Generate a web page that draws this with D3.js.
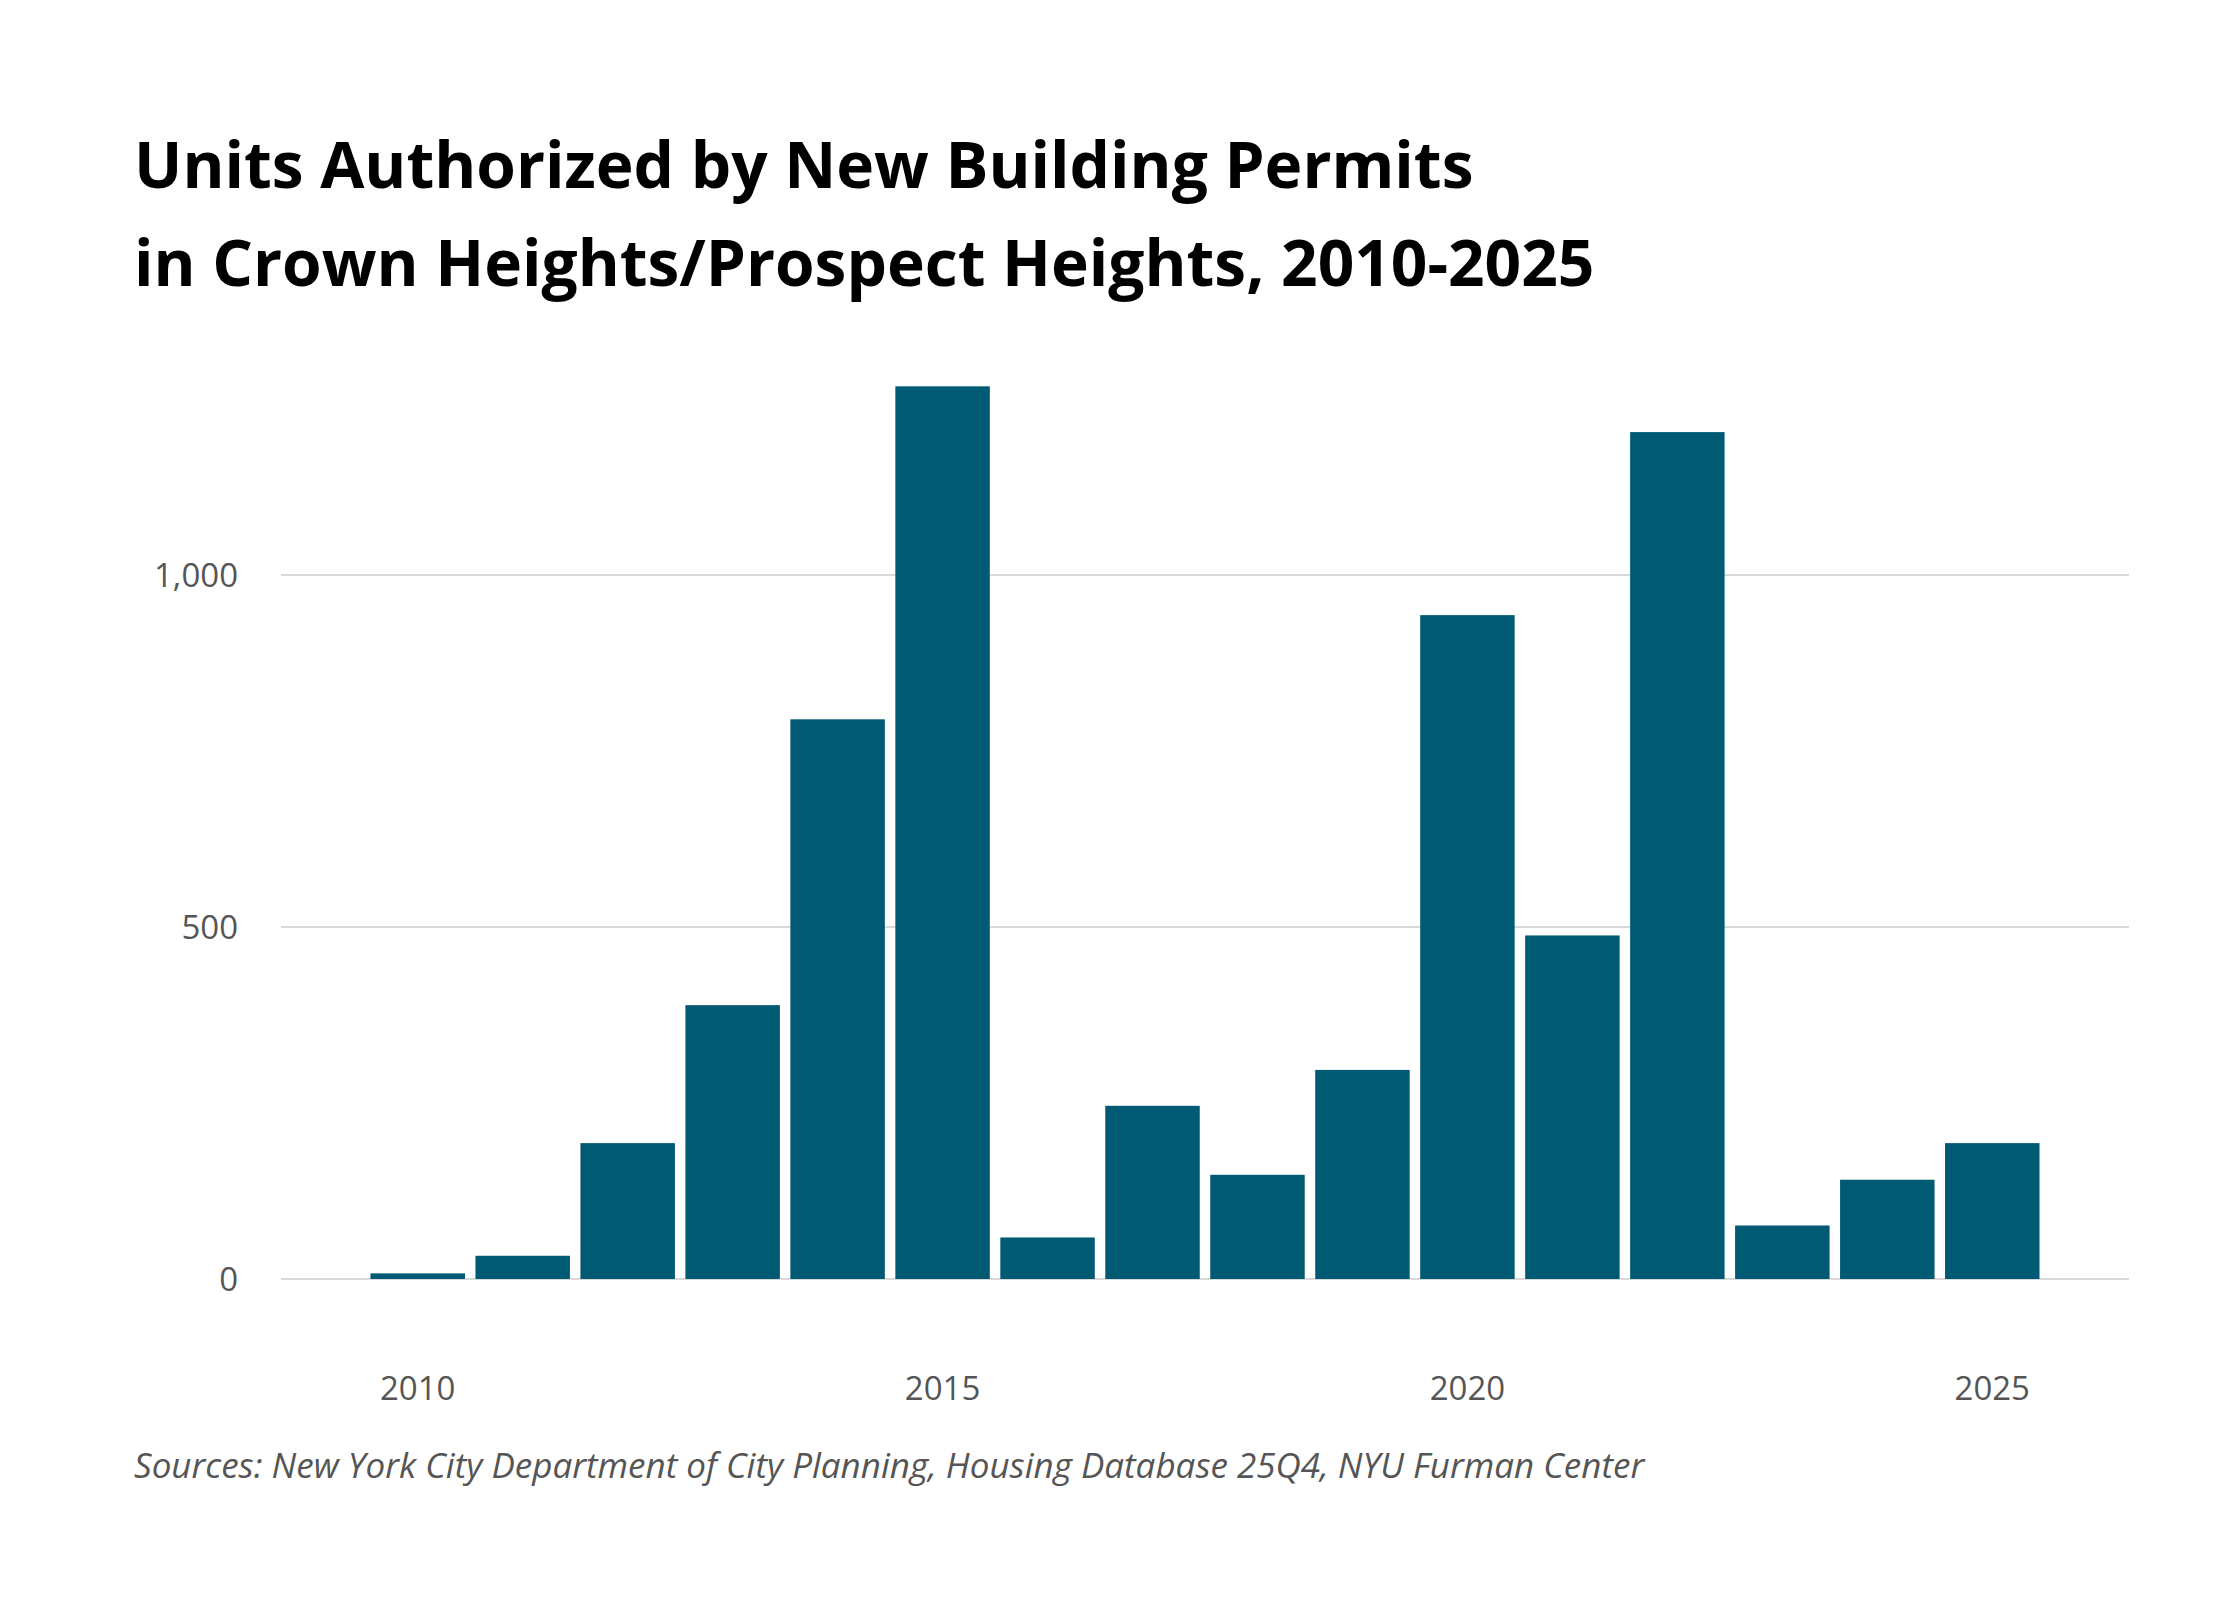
<!DOCTYPE html>
<html>
<head>
<meta charset="utf-8">
<script src="https://cdn.jsdelivr.net/npm/d3@7"></script>
<style>
  body { margin: 0; background: #fff; }
  text { font-family: "Open Sans", "Noto Sans", sans-serif; }
</style>
</head>
<body>
<div id="chart"></div>
<script>
// Data
let years = d3.range(2010, 2026);
let units = [8, 33, 193, 389, 795, 1268, 59, 246, 148, 297, 943, 488, 1203, 76, 141, 193];
let yTicks = [0, 500, 1000];
let xTicks = [2010, 2015, 2020, 2025];

let svgWidth = 2240, svgHeight = 1600;

let svg = d3.select('#chart')
            .append('svg')
            .attr('width', svgWidth)
            .attr('height', svgHeight);

// Title
let title = svg.append('text')
    .attr('x', 134)
    .attr('font-size', 64)
    .attr('font-weight', 700)
    .attr('fill', '#000');
title.append('tspan').attr('x', 134).attr('y', 188).text('Units Authorized by New Building Permits');
title.append('tspan').attr('x', 134).attr('y', 286).text('in Crown Heights/Prospect Heights, 2010-2025');

// Scales
let xScale = d3.scaleBand()
    .domain(years)
    .range([360, 2050])
    .padding(0.1);
let yScale = d3.scaleLinear()
    .domain([0, 1000])
    .range([1279, 575]);

// Gridlines + y labels
svg.append('g').selectAll('line')
    .data(yTicks).enter().append('line')
    .attr('x1', 281).attr('x2', 2129)
    .attr('y1', d => yScale(d)).attr('y2', d => yScale(d))
    .attr('stroke', '#ccc').attr('stroke-width', 1.5);

svg.append('g').selectAll('text')
    .data(yTicks).enter().append('text')
    .attr('x', 238)
    .attr('y', d => yScale(d) + 12)
    .attr('text-anchor', 'end')
    .attr('font-size', 33)
    .attr('fill', '#555')
    .text(d => d3.format(',')(d));

// Bars
svg.append('g').selectAll('rect')
    .data(units).enter().append('rect')
    .attr('x', (d, i) => xScale(years[i]))
    .attr('width', xScale.bandwidth())
    .attr('y', d => yScale(d))
    .attr('height', d => yScale(0) - yScale(d))
    .attr('fill', '#005a73');

// X labels
svg.append('g').selectAll('text')
    .data(xTicks).enter().append('text')
    .attr('x', d => xScale(d) + xScale.bandwidth() / 2)
    .attr('y', 1400)
    .attr('text-anchor', 'middle')
    .attr('font-size', 33)
    .attr('fill', '#555')
    .text(d => d);

// Source
svg.append('text')
    .attr('x', 134)
    .attr('y', 1478)
    .attr('font-size', 35)
    .attr('font-style', 'italic')
    .attr('fill', '#555')
    .text('Sources: New York City Department of City Planning, Housing Database 25Q4, NYU Furman Center');
</script>
</body>
</html>
